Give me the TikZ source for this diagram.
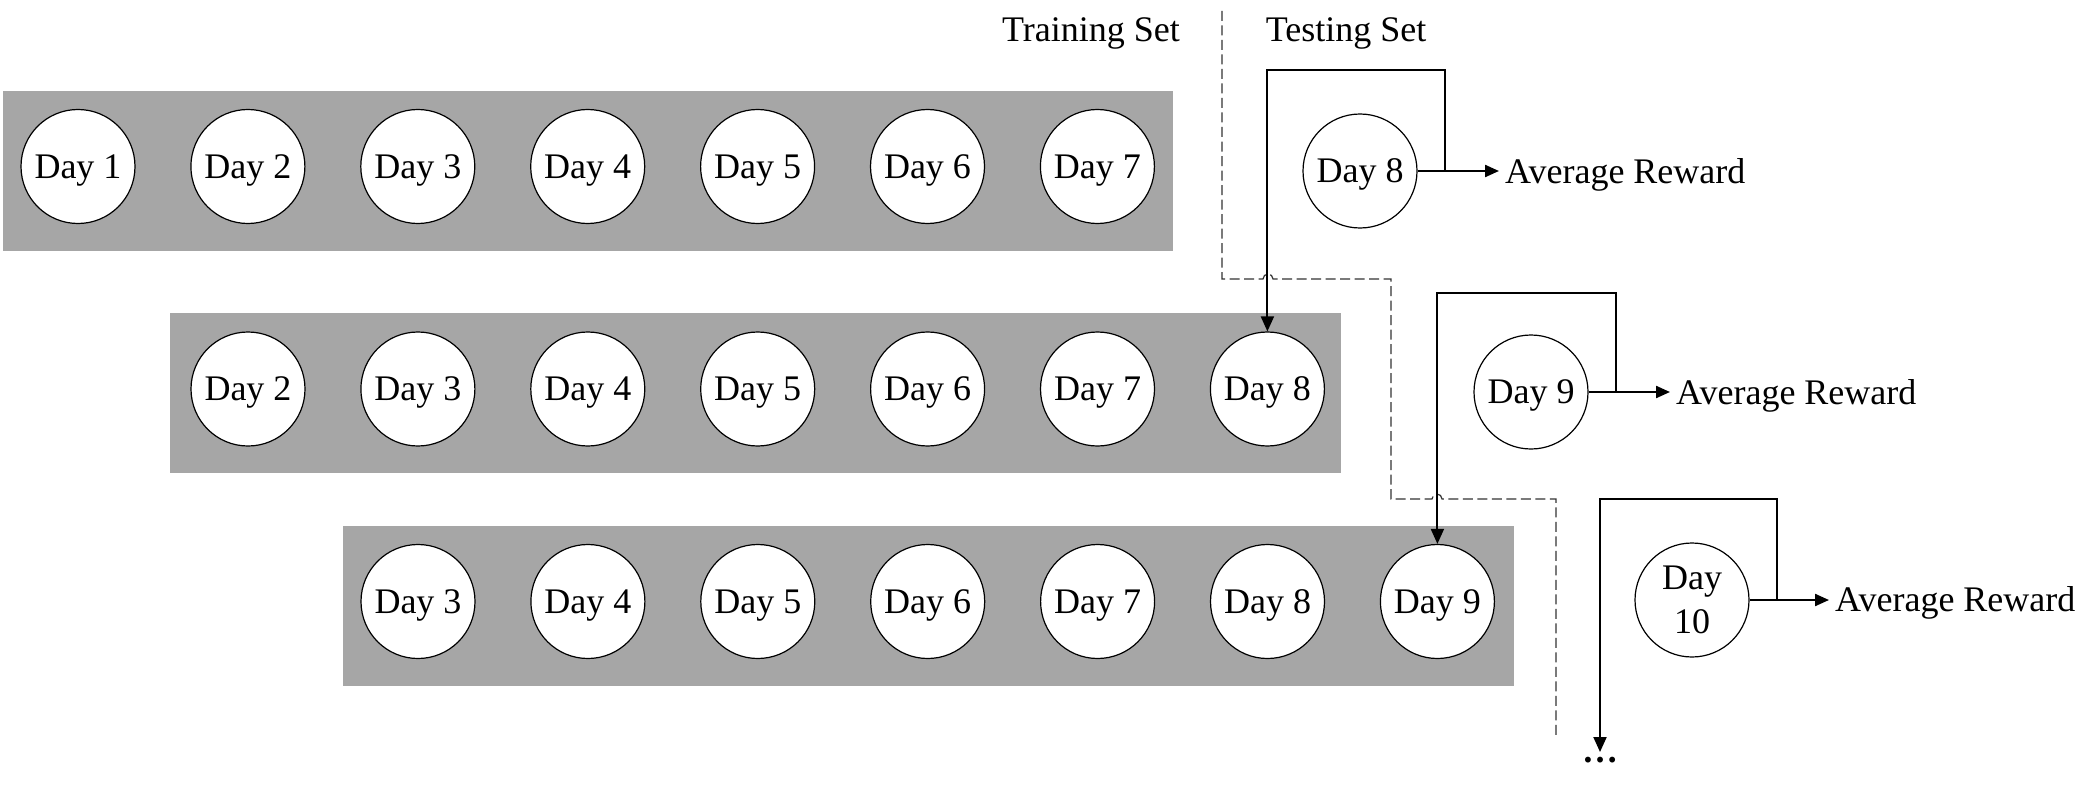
\documentclass[tikz,border=0pt]{standalone}
\usepackage{fontspec}
\setmainfont{Liberation Serif}
\usetikzlibrary{arrows.meta}
\definecolor{bandgray}{RGB}{166,166,166}
\definecolor{dashgray}{RGB}{50,50,50}
\begin{document}
\begin{tikzpicture}[x=1pt,y=-1pt,
  day/.style={circle,draw=black,fill=white,line width=1.2pt,minimum size=114pt,inner sep=0pt,
    text depth=0pt,align=center,font=\fontsize{36}{44}\selectfont},
  band/.style={fill=bandgray,draw=none},
  lbl/.style={font=\fontsize{36}{44}\selectfont,inner sep=0pt},
  reward/.style={lbl,anchor=base west,inner xsep=6pt,inner ysep=0pt},
  outarr/.style={line width=2.2pt,-{Triangle[length=14pt,width=12pt]}},
  downarr/.style={line width=2pt,-{Triangle[length=15pt,width=13pt]}},
  split/.style={dash pattern=on 10pt off 4.5pt,line width=1.2pt,draw=dashgray}]

\useasboundingbox (0,0) rectangle (2098,797);

% grey bands
\fill[band] (3,91) rectangle (1173,251);
\fill[band] (170,313) rectangle (1341,473);
\fill[band] (343,526) rectangle (1514,686);

% training windows
\foreach \i in {1,...,7} {
  \pgfmathsetmacro\xa{78+169.9*(\i-1)}
  \pgfmathsetmacro\xb{248+169.9*(\i-1)}
  \pgfmathsetmacro\xc{418+169.9*(\i-1)}
  \pgfmathtruncatemacro\db{\i+1}
  \pgfmathtruncatemacro\dc{\i+2}
  \node[day] (r1c\i) at (\xa,166.5) {Day \i};
  \node[day] (r2c\i) at (\xb,389) {Day \db};
  \node[day] (r3c\i) at (\xc,601.5) {Day \dc};
}

% headers
\node[lbl,anchor=base] (train) at (1091,42) {Training Set};
\node[lbl,anchor=base] (test) at (1346,42) {Testing Set};

% split line
\draw[split] (1222,11) -- (1222,279) -- (1263,279)
  arc[start angle=180,end angle=0,radius=5pt] -- (1391,279) -- (1391,499) -- (1432,499)
  arc[start angle=180,end angle=0,radius=5pt] -- (1556,499) -- (1556,739);

% testing days
\node[day] (t8) at (1360,171) {Day 8};
\node[day] (t9) at (1531,392) {Day 9};
\node[day] (t10) at (1692,600) {Day\\10};

\node[reward] (ar8) at (1499,183) {Average Reward};
\node[reward] (ar9) at (1670,404) {Average Reward};
\node[reward] (ar10) at (1829,611) {Average Reward};

\node[lbl,anchor=north] (dots) at (1600,757) {\textbf{…}};

\coordinate (j8) at (1445,171);
\coordinate (k8) at (1445,70);
\coordinate (j9) at (1616,392);
\coordinate (k9) at (1616,293);
\coordinate (j10) at (1777,600);
\coordinate (k10) at (1777,499);

\draw[outarr] (t8.east) -- (t8.east -| ar8.west);
\draw[outarr] (t9.east) -- (t9.east -| ar9.west);
\draw[outarr] (t10.east) -- (t10.east -| ar10.west);

\draw[downarr] (j8) -- (k8) -| (r2c7.north);
\draw[downarr] (j9) -- (k9) -| (r3c7.north);
\draw[downarr] (j10) -- (k10) -| ([yshift=5pt]dots.north);
\end{tikzpicture}
\end{document}
